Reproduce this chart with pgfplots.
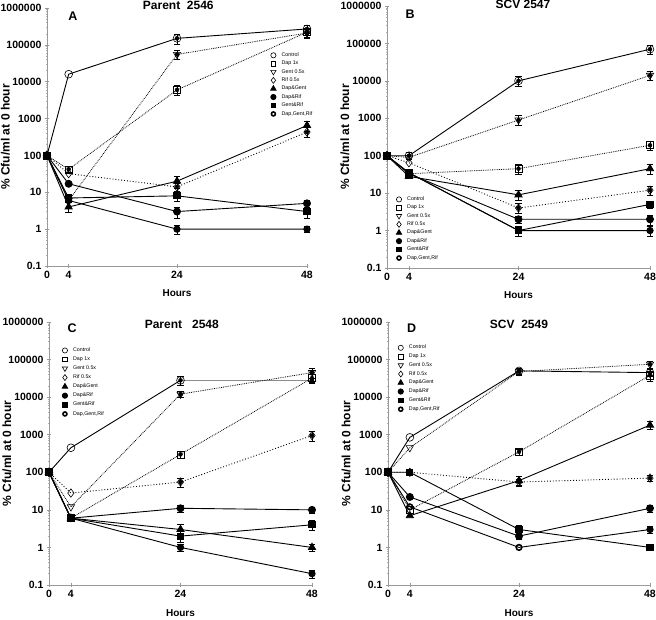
\documentclass[border=0pt]{standalone}
\usepackage{fontspec}
\setmainfont{Liberation Sans}
\usepackage{pgfplots}
\pgfplotsset{compat=1.18}
\tikzset{xmode/.code={}}
\pgfplotsset{
  myaxis/.style={scale only axis, anchor=south west, clip=false,
    xmin=0, xmax=48, ymin=0.1, ymax=1000000,
    axis lines=left, axis line style={-, gray!80, line width=0.8pt},
    xtick={0,4,24,48}, xticklabels={0,4,24,48},
    ytick={0.1,1,10,100,1000,10000,100000,1000000},
    yticklabels={0.1,1,10,100,1000,10000,100000,1000000},
    minor ytick={0.2,0.3,0.4,0.5,0.6,0.7,0.8,0.9,2,3,4,5,6,7,8,9,20,30,40,50,60,70,80,90,200,300,400,500,600,700,800,900,2000,3000,4000,5000,6000,7000,8000,9000,20000,30000,40000,50000,60000,70000,80000,90000,200000,300000,400000,500000,600000,700000,800000,900000},
    tick align=center, major tick length=4pt, minor tick length=2pt,
    major tick style={gray!80, line width=0.6pt}, minor tick style={gray!60, line width=0.4pt},
    ticklabel style={font=\bfseries\fontsize{10.5}{12}\selectfont},
    xlabel={Hours}, ylabel={\% Cfu/ml at 0 hour},
    xlabel style={at={(axis description cs:0.5,-0.105)}, anchor=center, font=\bfseries\fontsize{10}{12}\selectfont},
    ylabel style={at={(axis description cs:-0.16,0.5)}, anchor=center, font=\bfseries\fontsize{12}{14}\selectfont},
    legend cell align=left,
    legend style={draw=none, fill=none, anchor=north west, font=\fontsize{5.3}{6}\selectfont, row sep=1.9pt, inner sep=0pt, nodes={inner sep=0.6pt}, /tikz/every odd column/.append style={column sep=5pt}},
  },
  myctrl/.style={black, solid, line width=0.9pt, mark=o, mark size=3.9pt, mark options={solid, fill=white, line width=0.6pt}},
  mydap/.style={black, densely dotted, line width=0.8pt, mark=square, mark size=3.5pt, mark options={solid, fill=white, line width=0.6pt}},
  mygent/.style={black, densely dotted, line width=0.8pt, mark=triangle, mark size=4.2pt, mark options={solid, fill=white, rotate=180, line width=0.6pt}},
  myrif/.style={black, dotted, line width=0.9pt, mark=diamond, mark size=4.2pt, mark options={solid, fill=white, line width=0.6pt}},
  mydg/.style={black, solid, line width=0.9pt, mark=triangle*, mark size=4.1pt, mark options={solid}},
  mydr/.style={black, solid, line width=0.9pt, mark=*, mark size=3.5pt, mark options={solid}},
  mygr/.style={black, solid, line width=0.9pt, mark=square*, mark size=3.1pt, mark options={solid}},
  mydgr/.style={black, solid, line width=0.9pt, mark=o, mark size=2.8pt, mark options={solid, fill=white, line width=1.6pt}},
  myeb/.style={forget plot, only marks, mark=none, black,
    error bars/y dir=both, error bars/y explicit,
    error bars/error bar style={solid, black, line width=0.7pt},
    error bars/error mark options={rotate=90, mark size=3.4pt, line width=0.7pt, solid, black}},
  myleg/.style={only marks, mark size=2.6pt},
}
\tikzset{mylab/.style={font=\bfseries\fontsize{12.5}{14}\selectfont},
  myttl/.style={font=\bfseries\fontsize{12}{14}\selectfont}}
\newcommand{\mylegend}{%
  \addlegendimage{myctrl,myleg}\addlegendentry{Control}
  \addlegendimage{mydap,myleg,mark size=2.3pt}\addlegendentry{Dap 1x}
  \addlegendimage{mygent,myleg,mark size=3pt}\addlegendentry{Gent 0.5x}
  \addlegendimage{myrif,myleg,mark size=3pt}\addlegendentry{Rif 0.5x}
  \addlegendimage{mydg,myleg,mark size=3pt}\addlegendentry{Dap\&Gent}
  \addlegendimage{mydr,myleg}\addlegendentry{Dap\&Rif}
  \addlegendimage{mygr,myleg,mark size=2.2pt}\addlegendentry{Gent\&Rif}
  \addlegendimage{mydgr,myleg,mark size=2pt}\addlegendentry{Dap,Gent,Rif}}
\begin{document}
\begin{tikzpicture}
\useasboundingbox (0,0) rectangle (656pt,620pt);
% ---------------- A ----------------
\begin{axis}[ymode=log, myaxis, at={(47pt,354pt)}, width=260pt, height=258pt,
  legend style={at={(rel axis cs:0.86,0.83)}}]
\mylegend
\addplot[myeb] coordinates {(24,150000) +- (0,45000) (48,270000) +- (0,65000)};
\addplot[myctrl, forget plot] coordinates {(0,100) (4,16000) (24,150000) (48,270000)};
\addplot[myeb] coordinates {(4,42) +- (0,8) (24,6000) +- (0,1800) (48,220000) +- (0,60000)};
\addplot[mydap, forget plot] coordinates {(0,100) (4,42) (24,6000) (48,220000)};
\addplot[myeb] coordinates {(24,55000) +- (0,14000) (48,210000) +- (0,60000)};
\addplot[mygent, forget plot] coordinates {(0,100) (4,6) (24,55000) (48,210000)};
\addplot[myeb] coordinates {(24,14) +- (0,3.5) (48,430) +- (0,130)};
\addplot[myrif, forget plot] coordinates {(0,100) (4,32) (24,14) (48,430)};
\addplot[myeb] coordinates {(4,4) +- (0,1.2) (24,20) +- (0,7) (48,650) +- (0,190)};
\addplot[mydg, forget plot] coordinates {(0,100) (4,4) (24,20) (48,650)};
\addplot[myeb] coordinates {(24,3) +- (0,1) (48,5) +- (0,1.2)};
\addplot[mydr, forget plot] coordinates {(0,100) (4,17) (24,3) (48,5)};
\addplot[myeb] coordinates {(24,8) +- (0,2.4) (48,3) +- (0,1)};
\addplot[mygr, forget plot] coordinates {(0,100) (4,7) (24,8) (48,3)};
\addplot[myeb] coordinates {(24,1) +- (0,0.3) (48,1) +- (0,0.2)};
\addplot[mydgr, forget plot] coordinates {(0,100) (4,6) (24,1) (48,1)};
\node[mylab] at (rel axis cs:0.1,0.97) {A};
\node[myttl] at (rel axis cs:0.505,1.01) {Parent\ \ 2546};
\end{axis}
% ---------------- B ----------------
\begin{axis}[ymode=log, myaxis, at={(387pt,352pt)}, width=263pt, height=262pt,
  legend style={at={(rel axis cs:0.035,0.275)}}]
\mylegend
\addplot[myeb] coordinates {(4,100) +- (0,20) (24,10000) +- (0,3000) (48,70000) +- (0,20000)};
\addplot[myctrl, forget plot] coordinates {(0,100) (4,100) (24,10000) (48,70000)};
\addplot[myeb] coordinates {(24,45) +- (0,13) (48,190) +- (0,55)};
\addplot[mydap, forget plot] coordinates {(0,100) (4,33) (24,45) (48,190)};
\addplot[myeb] coordinates {(24,900) +- (0,270) (48,14000) +- (0,4000)};
\addplot[mygent, forget plot] coordinates {(0,100) (4,90) (24,900) (48,14000)};
\addplot[myeb] coordinates {(24,4) +- (0,1.2) (48,12) +- (0,3.5)};
\addplot[myrif, forget plot] coordinates {(0,100) (4,65) (24,4) (48,12)};
\addplot[myeb] coordinates {(24,9) +- (0,2.7) (48,45) +- (0,13)};
\addplot[mydg, forget plot] coordinates {(0,100) (4,28) (24,9) (48,45)};
\addplot[myeb] coordinates {(24,2) +- (0,0.4) (48,2) +- (0,0.6)};
\addplot[mydr, forget plot] coordinates {(0,100) (4,33) (24,2) (48,2)};
\addplot[myeb] coordinates {(24,1) +- (0,0.3) (48,5) +- (0,1)};
\addplot[mygr, forget plot] coordinates {(0,100) (4,35) (24,1) (48,5)};
\addplot[myeb] coordinates {(24,1) +- (0,0.3) (48,1) +- (0,0.3)};
\addplot[mydgr, forget plot] coordinates {(0,100) (4,35) (24,1) (48,1)};
\node[mylab] at (rel axis cs:0.088,0.97) {B};
\node[myttl] at (rel axis cs:0.517,1.005) {SCV 2547};
\end{axis}
% ---------------- C ----------------
\begin{axis}[ymode=log, myaxis, at={(49pt,35pt)}, width=263pt, height=263pt,
  legend style={at={(rel axis cs:0.05,0.905)}, row sep=2.6pt}]
\mylegend
\addplot[myeb] coordinates {(24,28000) +- (0,8000) (48,28000) +- (0,3000)};
\addplot[myctrl, forget plot] coordinates {(0,100) (4,450) (24,28000)};
\addplot[black!45, line width=1.6pt, forget plot] coordinates {(24,28000) (48,28000)};
\addplot[myeb] coordinates {(24,300) +- (0,60) (48,32000) +- (0,9000)};
\addplot[mydap, forget plot] coordinates {(0,100) (4,6) (24,300) (48,32000)};
\addplot[myeb] coordinates {(24,12000) +- (0,2400) (48,45000) +- (0,13000)};
\addplot[mygent, forget plot] coordinates {(0,100) (4,12) (24,12000) (48,45000)};
\addplot[myeb] coordinates {(24,55) +- (0,16) (48,950) +- (0,280)};
\addplot[myrif, forget plot] coordinates {(0,100) (4,28) (24,55) (48,950)};
\addplot[myeb] coordinates {(24,3) +- (0,1) (48,1) +- (0,0.2)};
\addplot[mydg, forget plot] coordinates {(0,100) (4,6) (24,3) (48,1)};
\addplot[myeb] coordinates {(24,11) +- (0,2.2) (48,10) +- (0,2)};
\addplot[mydr, forget plot] coordinates {(0,100) (4,6) (24,11) (48,10)};
\addplot[myeb] coordinates {(24,2) +- (0,0.6) (48,4) +- (0,1.2)};
\addplot[mygr, forget plot] coordinates {(0,100) (4,6) (24,2) (48,4)};
\addplot[myeb] coordinates {(24,1) +- (0,0.2) (48,0.2) +- (0,0.05)};
\addplot[mydgr, forget plot] coordinates {(0,100) (4,6) (24,1) (48,0.2)};
\node[mylab] at (rel axis cs:0.088,0.975) {C};
\node[myttl] at (rel axis cs:0.505,0.99) {Parent\ \ \ 2548};
\end{axis}
% ---------------- D ----------------
\begin{axis}[ymode=log, myaxis, at={(388pt,35pt)}, width=262pt, height=263pt,
  legend style={at={(rel axis cs:0.038,0.915)}, row sep=2.3pt}]
\mylegend
\addplot[myeb] coordinates {(24,50000) +- (0,10000) (48,45000) +- (0,9000)};
\addplot[myctrl, forget plot] coordinates {(0,100) (4,850) (24,50000) (48,45000)};
\addplot[myeb] coordinates {(24,350) +- (0,70) (48,38000) +- (0,11000)};
\addplot[mydap, forget plot] coordinates {(0,100) (4,10) (24,350) (48,38000)};
\addplot[myeb] coordinates {(24,48000) +- (0,9600) (48,75000) +- (0,15000)};
\addplot[mygent, forget plot] coordinates {(0,100) (4,450) (24,48000) (48,75000)};
\addplot[myeb] coordinates {(24,55) +- (0,11) (48,70) +- (0,14)};
\addplot[myrif, forget plot] coordinates {(0,100) (4,100) (24,55) (48,70)};
\addplot[myeb] coordinates {(24,60) +- (0,18) (48,1800) +- (0,450)};
\addplot[mydg, forget plot] coordinates {(0,100) (4,7) (24,60) (48,1800)};
\addplot[myeb] coordinates {(24,2) +- (0,0.4) (48,11) +- (0,2.2)};
\addplot[mydr, forget plot] coordinates {(0,100) (4,22) (24,2) (48,11)};
\addplot[myeb] coordinates {(24,3) +- (0,0.9) (48,1) +- (0,0.15)};
\addplot[mygr, forget plot] coordinates {(0,100) (4,100) (24,3) (48,1)};
\addplot[myeb] coordinates {(48,3) +- (0,0.6)};
\addplot[mydgr, forget plot] coordinates {(0,100) (4,12) (24,1) (48,3)};
\node[mylab] at (rel axis cs:0.09,0.975) {D};
\node[myttl] at (rel axis cs:0.5,0.99) {SCV\ \ 2549};
\end{axis}
\end{tikzpicture}
\end{document}
